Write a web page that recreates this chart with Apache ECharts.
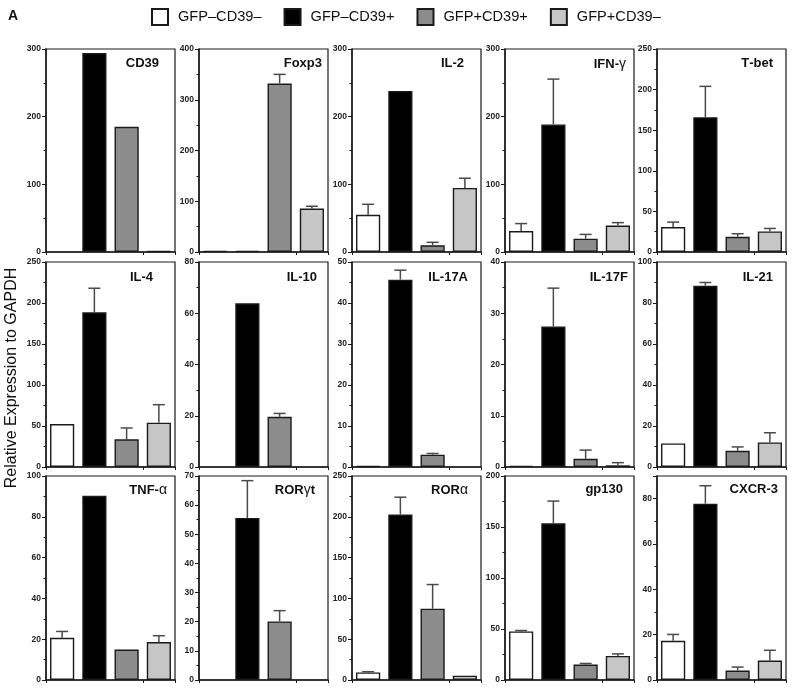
<!DOCTYPE html>
<html>
<head>
<meta charset="utf-8">
<script src="https://cdn.jsdelivr.net/npm/echarts@6/dist/echarts.min.js"></script>
<style>
html,body{margin:0;padding:0;background:#fff;}
#chart{width:795px;height:693px;}
</style>
</head>
<body>
<div id="chart"></div>
<script>
// ---- data ----
const genes = ['CD39','Foxp3','IL-2','IFN-\u03b3','T-bet','IL-4','IL-10','IL-17A','IL-17F','IL-21','TNF-\u03b1','ROR\u03b3t','ROR\u03b1','gp130','CXCR-3'];
const groups = ['GFP\u2013CD39\u2013','GFP\u2013CD39+','GFP+CD39+','GFP+CD39\u2013'];
const valNegNeg = [0,2.5,55,31,30.7, 52.4,0,0.25,0.26,11.5, 20.7,0,9.3,47.6,17.3];
const valNegPos = [294,2.5,238,188.5,166, 188.6,63.9,45.7,27.4,88.4, 90.3,55.6,202.8,153.7,77.8];
const valPosPos = [185,332,10,19.7,18.8, 33.7,19.6,3.0,1.6,7.9, 14.9,20.1,87.4,15.2,4.2];
const valPosNeg = [1.5,85.6,94.7,39,25.4, 54,0,0,0.33,12, 18.6,0,5.3,23.6,8.6];
const errNegNeg = [0,0,15.5,11,6.1, 0,0,0,0,0, 3.1,0,0.9,0.9,2.8];
const errNegPos = [0,0,0,67,38, 29.4,0,2.3,7.5,1.6, 0,12.8,21.2,21.7,7.9];
const errPosPos = [0,18,4.3,6.3,3.7, 13.9,1.3,0.3,1.7,1.9, 0,3.7,29.6,1.0,1.5];
const errPosNeg = [0,4.5,14.3,4.4,3.6, 22,0,0,0.52,4.7, 3.1,0,0,2.0,4.5];
const axisMax = [300,400,300,300,250, 250,80,50,40,100, 100,70,250,200,90];
const axisStep = [100,100,100,100,50, 50,20,10,10,20, 20,10,50,50,20];
const yTitle = 'Relative Expression to GAPDH';
const panelLetter = 'A';

// ---- layout / style ----
const colLefts = [46,199,352,505,657];
const rowTops = [49,262,476];
const rowHeights = [203,205,204];
const panelWidth = 129;
const titleRightX = [159,322,464,626,773, 153,317,468,628,773, 167,315,468,623,778];
const titleCenterY = [64,278,490];
const colors = ['#ffffff','#000000','#8c8c8c','#c6c6c6'];
const FONT = "'Liberation Sans', Arial, sans-serif";

const vals = [valNegNeg,valNegPos,valPosPos,valPosNeg];
const errs = [errNegNeg,errNegPos,errPosPos,errPosNeg];

function richName(s){
  return s.split('').map(c => /[\u0370-\u03ff]/.test(c) ? '{g|'+c+'}' : '{b|'+c+'}').join('');
}

const grid=[], xAxis=[], yAxis=[], series=[], title=[];
genes.forEach((gname,i)=>{
  const row=Math.floor(i/5), col=i%5;
  grid.push({left:colLefts[col], top:rowTops[row], width:panelWidth, height:rowHeights[row],
    show:true, borderColor:'#1a1a1a', borderWidth:1.2, backgroundColor:'transparent'});
  xAxis.push({gridIndex:i, type:'category', data:groups,
    axisLabel:{show:false},
    axisLine:{lineStyle:{color:'#1a1a1a', width:1.5}},
    axisTick:{show:true, length:3, lineStyle:{color:'#1a1a1a'}}});
  const step=axisStep[i];
  yAxis.push({gridIndex:i, type:'value', min:0, max:axisMax[i], interval:step,
    splitLine:{show:false},
    axisLine:{show:true, lineStyle:{color:'#1a1a1a', width:1.5}},
    axisTick:{show:true, length:4, lineStyle:{color:'#1a1a1a'}},
    minorTick:{show:true, splitNumber:2, length:2.5, lineStyle:{color:'#1a1a1a'}},
    axisLabel:{fontSize:8.5, fontWeight:'bold', color:'#222', margin:5, fontFamily:FONT,
      formatter: v => (v % step === 0 ? String(v) : '')}});
  groups.forEach((g,gi)=>{
    const d=[ '-','-','-','-' ];
    const v=vals[gi][i];
    d[gi] = v===0 ? '-' : v;
    series.push({type:'bar', name:g, xAxisIndex:i, yAxisIndex:i, stack:'p'+i,
      barWidth:'75%', data:d,
      itemStyle:{color:colors[gi], borderColor:'#1a1a1a', borderWidth:1.4}});
  });
  const ed=[];
  groups.forEach((g,gi)=>{ if(errs[gi][i]>0) ed.push([gi, vals[gi][i], errs[gi][i]]); });
  series.push({type:'custom', xAxisIndex:i, yAxisIndex:i, z:5, data:ed,
    renderItem:(params, api)=>{
      const x=api.value(0), v=api.value(1), e=api.value(2);
      const p0=api.coord([x,v]), p1=api.coord([x,v+e]);
      const st={stroke:'#4a4a4a', lineWidth:1.5};
      return {type:'group', children:[
        {type:'line', shape:{x1:p0[0],y1:p0[1],x2:p1[0],y2:p1[1]}, style:st},
        {type:'line', shape:{x1:p1[0]-6,y1:p1[1],x2:p1[0]+6,y2:p1[1]}, style:st}
      ]};
    }});
  title.push({text:richName(gname), right:795-titleRightX[i], top:titleCenterY[row]-7, padding:0,
    textStyle:{rich:{
      b:{fontSize:13, fontWeight:'bold', color:'#111', fontFamily:FONT},
      g:{fontSize:14, fontWeight:'normal', color:'#111', fontFamily:FONT}
    }}});
});
title.push({text:panelLetter, left:8, top:9, padding:0,
  textStyle:{fontSize:14, fontWeight:'bold', color:'#111', fontFamily:FONT}});

const option={
  animation:false,
  backgroundColor:'#fff',
  title:title,
  legend:{left:151, top:8, padding:0, itemWidth:16, itemHeight:16, itemGap:22, icon:'rect',
    data:groups, selectedMode:false,
    textStyle:{fontSize:14.6, color:'#111', fontFamily:FONT, padding:[0,0,0,5]}},
  grid:grid, xAxis:xAxis, yAxis:yAxis, series:series,
  graphic:[{type:'text', x:12, y:378, rotation:Math.PI/2,
    style:{text:yTitle, font:"16px 'Liberation Sans', Arial, sans-serif", fill:'#111',
      textAlign:'center', textVerticalAlign:'middle'}}]
};
const chart=echarts.init(document.getElementById('chart'), null, {renderer:'canvas'});
chart.setOption(option);
</script>
</body>
</html>
